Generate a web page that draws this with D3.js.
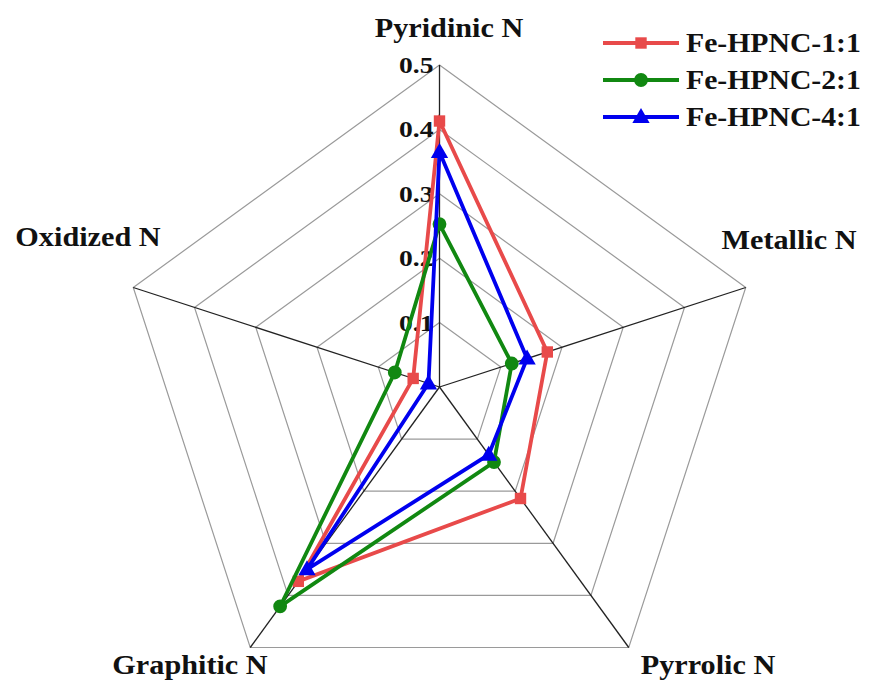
<!DOCTYPE html>
<html><head><meta charset="utf-8">
<script src="https://cdn.jsdelivr.net/npm/d3@7"></script>
<style>body{margin:0;background:#fff}svg{display:block}</style>
</head><body>
<script>
const categories = ["Pyridinic N", "Metallic N", "Pyrrolic N", "Graphitic N", "Oxidized N"];
const seriesNames = ["Fe-HPNC-1:1", "Fe-HPNC-2:1", "Fe-HPNC-4:1"];
const values11 = [0.413, 0.176, 0.214, 0.373, 0.043];
const values21 = [0.253, 0.118, 0.144, 0.421, 0.073];
const values41 = [0.365, 0.143, 0.130, 0.350, 0.018];
const tickValues = [0.1, 0.2, 0.3, 0.4, 0.5];
const tickLabels = ["0.1", "0.2", "0.3", "0.4", "0.5"];
const colors = ["#e84a4a", "#118811", "#0000ee"];
const markerTypes = [d3.symbolSquare, d3.symbolCircle, d3.symbolTriangle];

const W = 880, H = 689, cx = 439.5, cy = 387, R = 322;
const FONT = "'Liberation Serif','Times New Roman',serif";
const svg = d3.select("body").append("svg").attr("width", W).attr("height", H);

const r = d3.scaleLinear().domain([0, 0.5]).range([0, R]);
const ang = d3.scaleBand().domain(categories).range([0, 2 * Math.PI]).align(0).paddingInner(0).paddingOuter(0);
const angleOf = c => ang(c);
const pt = (c, v) => [cx + r(v) * Math.sin(angleOf(c)), cy - r(v) * Math.cos(angleOf(c))];

// grid rings
const ring = d3.line();
tickValues.forEach(t => {
  const pts = categories.map(c => pt(c, t));
  svg.append("path").attr("d", ring(pts) + "Z").attr("fill", "none")
    .attr("stroke", "#9a9a9a").attr("stroke-width", 1.2);
});
// spokes
categories.forEach(c => {
  const [x, y] = pt(c, 0.5);
  svg.append("line").attr("x1", cx).attr("y1", cy).attr("x2", x).attr("y2", y)
    .attr("stroke", "#222").attr("stroke-width", 1.3);
});

function txt(x, y, s, size, anchor, sx) {
  return svg.append("text")
    .attr("transform", `translate(${x},${y}) scale(${sx},1)`)
    .attr("text-anchor", anchor).attr("font-family", FONT)
    .attr("font-weight", "bold").attr("font-size", size).attr("fill", "#111").text(s);
}

// tick labels
tickValues.forEach((t, i) => {
  txt(cx - 6, cy - r(t) + 8, tickLabels[i], 23, "end", 1.2);
});

// category labels
const labelPos = [[449, 37, "middle"], [789, 249, "middle"], [708, 674, "middle"], [190, 674, "middle"], [88, 246, "middle"]];
categories.forEach((c, i) => {
  txt(labelPos[i][0], labelPos[i][1], c, 27, labelPos[i][2], 1.12);
});

// series
const allValues = [values11, values21, values41];
const lineGen = d3.line();
allValues.forEach((vals, si) => {
  const pts = categories.map((c, i) => pt(c, vals[i]));
  svg.append("path").attr("d", lineGen(pts) + "Z").attr("fill", "none")
    .attr("stroke", colors[si]).attr("stroke-width", 3.8).attr("stroke-linejoin", "miter");
  const sym = d3.symbol().type(markerTypes[si]).size(si === 0 ? 130 : si === 1 ? 150 : 130);
  pts.forEach(p => {
    svg.append("path").attr("d", sym()).attr("transform", `translate(${p[0]},${p[1] + (si === 2 ? 1 : 0)})`)
      .attr("fill", colors[si]);
  });
});

// legend
const legY = [43, 80, 117];
seriesNames.forEach((n, i) => {
  const g = svg.append("g");
  g.append("line").attr("x1", 603).attr("x2", 679).attr("y1", legY[i]).attr("y2", legY[i])
    .attr("stroke", colors[i]).attr("stroke-width", 3.8);
  g.append("path").attr("d", d3.symbol().type(markerTypes[i]).size(i === 1 ? 150 : 130)())
    .attr("transform", `translate(641,${legY[i] + (i === 2 ? 1 : 0)})`).attr("fill", colors[i]);
  txt(686, legY[i] + 9, n, 27, "start", 1.1);
});
</script>
</body></html>
